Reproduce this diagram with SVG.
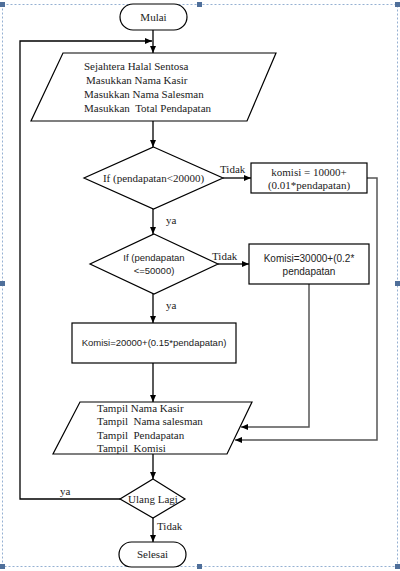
<svg xmlns="http://www.w3.org/2000/svg" width="400" height="571" viewBox="0 0 400 571">
<defs>
<marker id="ah" markerWidth="8" markerHeight="8" refX="7" refY="4" orient="auto" markerUnits="userSpaceOnUse">
<path d="M0,1 L7,4 L0,7 Z" fill="#000"/>
</marker>
<style>
.shape{fill:#fff;stroke:#000;stroke-width:1.2}
.ln{fill:none;stroke:#000;stroke-width:1.3}
.gl{fill:none;stroke:#555;stroke-width:1.5}
text{white-space:pre}
.serif{font-family:"Liberation Serif","Times New Roman",serif;font-size:11px;fill:#222}
.sans{font-family:"Liberation Sans",Arial,sans-serif;font-size:9.5px;fill:#222}
.frame{fill:none;stroke:#7a9cc6;stroke-width:0.8;stroke-dasharray:2,2}
.handle{fill:#4f6f9a}
</style>
</defs>
<rect width="400" height="571" fill="#fff"/>
<g id="frame">
<rect class="frame" x="2.5" y="4.5" width="395" height="562"/>
<rect class="handle" x="0" y="2" width="5" height="5"/>
<rect class="handle" x="197" y="2" width="5" height="5"/>
<rect class="handle" x="395" y="2" width="5" height="5"/>
<rect class="handle" x="0" y="281" width="5" height="5"/>
<rect class="handle" x="395" y="281" width="5" height="5"/>
<rect class="handle" x="0" y="564" width="5" height="5"/>
<rect class="handle" x="197" y="564" width="5" height="5"/>
<rect class="handle" x="395" y="564" width="5" height="5"/>
</g>
<g id="connectors">
<path class="ln" d="M153,30 V53" marker-end="url(#ah)"/>
<path class="ln" d="M120,499 H20 V41 H152" marker-end="url(#ah)"/>
<path class="ln" d="M153,121 V147" marker-end="url(#ah)"/>
<path class="ln" d="M223,178 H251" marker-end="url(#ah)"/>
<path class="ln" d="M153,209 V234" marker-end="url(#ah)"/>
<path class="ln" d="M218,264 H249" marker-end="url(#ah)"/>
<path class="ln" d="M153,294 V323" marker-end="url(#ah)"/>
<path class="ln" d="M153,363 V402" marker-end="url(#ah)"/>
<path class="gl" d="M367,178 H377 V440 H235" marker-end="url(#ah)"/>
<path class="gl" d="M309,284 V427 H241" marker-end="url(#ah)"/>
<path class="ln" d="M153,454 V479" marker-end="url(#ah)"/>
<path class="ln" d="M153,518 V542" marker-end="url(#ah)"/>
<text class="serif" x="220" y="173">Tidak</text>
<text class="serif" x="166" y="224">ya</text>
<text class="serif" x="212" y="260">Tidak</text>
<text class="serif" x="166" y="309">ya</text>
<text class="serif" x="60" y="495">ya</text>
<text class="serif" x="157" y="530">Tidak</text>
</g>
<g id="mulai">
<rect class="shape" x="120" y="4" width="67" height="26" rx="13"/>
<text class="serif" x="153.5" y="21" text-anchor="middle">Mulai</text>
</g>
<g id="input">
<polygon class="shape" points="63,53 276,53 247,121 31,121"/>
<text class="serif" x="84" y="70">Sejahtera Halal Sentosa</text>
<text class="serif" x="86" y="84">Masukkan Nama Kasir</text>
<text class="serif" x="84" y="98">Masukkan Nama Salesman</text>
<text class="serif" x="84" y="112">Masukkan  Total Pendapatan</text>
</g>
<g id="if1">
<polygon class="shape" points="153.5,147 223,178 153.5,209 84,178"/>
<text class="serif" x="153.5" y="182" text-anchor="middle">If (pendapatan&lt;20000)</text>
</g>
<g id="komisi1">
<rect class="shape" x="251" y="163" width="116" height="30"/>
<text class="serif" x="309" y="176" text-anchor="middle">komisi = 10000+</text>
<text class="serif" x="309" y="189" text-anchor="middle">(0.01*pendapatan)</text>
</g>
<g id="if2">
<polygon class="shape" points="154,234 218,264 154,294 90,264"/>
<text class="sans" x="154" y="261" text-anchor="middle">If (pendapatan</text>
<text class="sans" x="154" y="274" text-anchor="middle">&lt;=50000)</text>
</g>
<g id="komisi2">
<rect class="shape" x="249" y="244" width="120" height="40"/>
<text class="sans" x="309" y="262" text-anchor="middle" style="font-size:10px">Komisi=30000+(0.2*</text>
<text class="sans" x="309" y="275" text-anchor="middle" style="font-size:10px">pendapatan</text>
</g>
<g id="komisi3">
<rect class="shape" x="72" y="323" width="164" height="40"/>
<text class="sans" x="154" y="346" text-anchor="middle">Komisi=20000+(0.15*pendapatan)</text>
</g>
<g id="output">
<polygon class="shape" points="80,402 252,402 227,454 53,454"/>
<text class="serif" x="97" y="412">Tampil Nama Kasir</text>
<text class="serif" x="97" y="425">Tampil  Nama salesman</text>
<text class="serif" x="97" y="439">Tampil  Pendapatan</text>
<text class="serif" x="97" y="452">Tampil  Komisi</text>
</g>
<g id="ulang">
<polygon class="shape" points="153,479 185,499 153,518 120,499"/>
<text class="serif" x="153" y="503" text-anchor="middle">Ulang Lagi</text>
</g>
<g id="selesai">
<rect class="shape" x="119" y="542" width="67" height="25" rx="12.5"/>
<text class="serif" x="152.5" y="558" text-anchor="middle">Selesai</text>
</g>
</svg>
